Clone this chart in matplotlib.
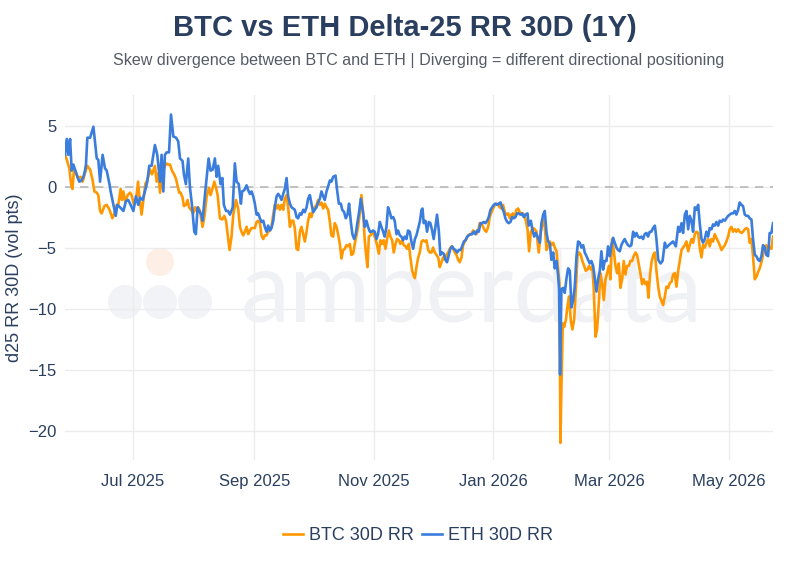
import numpy as np
import pandas as pd
import matplotlib
matplotlib.use("Agg")
import matplotlib.pyplot as plt
import matplotlib.dates as mdates
from matplotlib.patches import Ellipse

# ---------------- data (day offsets from 2025-05-27, value in vol pts) ----------------
start_date = "2025-05-27"

eth_day = [0.3,1.2,2.0,2.9,3.7,4.6,5.4,6.6,7.6,8.8,9.7,10.5,11.0,11.7,13.1,14.8,15.6,16.5,17.3,18.2,19.5,20.7,21.6,23.0,23.6,25.0,26.2,27.0,28.4,30.1,31.4,32.6,33.8,35.2,36.5,37.7,38.6,40.0,41.1,42.3,43.3,44.5,46.2,47.4,48.8,49.6,50.5,51.3,52.2,53.4,54.4,55.6,57.0,58.1,59.0,60.3,61.0,62.0,63.2,64.1,65.1,66.3,67.1,68.0,68.8,69.9,70.5,71.6,73.0,73.6,74.6,75.7,76.8,77.7,78.5,79.7,80.6,81.4,82.5,83.5,84.5,85.9,87.0,87.9,
           89.0,90.1,90.7,91.8,93.0,93.8,94.7,95.5,96.4,97.2,98.1,98.9,99.8,100.6,101.5,102.3,103.2,104.0,104.9,105.7,106.6,107.4,108.3,109.1,110.0,110.8,111.7,112.5,113.4,114.2,115.1,115.9,116.8,117.6,118.5,119.3,120.2,121.0,121.9,122.7,123.6,124.4,125.3,126.1,127.0,127.8,128.7,129.5,130.4,131.2,132.1,132.9,133.8,134.6,135.5,136.3,137.2,138.4,139.2,140.1,141.1,141.8,142.8,143.6,144.5,145.3,146.2,147.0,147.9,148.7,149.6,150.4,151.3,152.5,153.3,154.2,155.0,155.9,156.7,157.6,158.4,159.3,160.1,161.0,161.8,162.7,163.5,164.4,165.2,166.1,166.9,167.8,168.6,169.5,170.3,171.2,172.0,172.9,173.7,174.6,175.4,176.3,177.1,178.0,
           178.9,179.7,180.6,181.4,182.3,182.8,183.4,184.3,185.1,186.0,186.8,187.7,188.5,189.4,190.2,191.1,191.9,192.8,193.6,194.5,195.3,196.2,197.0,197.9,198.7,199.6,200.5,201.3,202.2,203.0,203.9,204.7,205.6,206.4,207.3,208.1,209.0,209.8,210.7,211.5,212.4,213.2,214.1,214.9,215.8,216.6,217.5,218.3,219.2,220.0,220.9,221.7,222.6,223.4,224.3,225.1,226.0,226.8,227.7,228.5,229.4,230.2,231.1,231.9,232.8,233.6,234.5,
           235.3,236.4,237.0,238.1,238.7,239.8,240.6,241.5,242.7,243.5,244.4,245.2,246.1,246.9,247.8,248.6,249.5,250.3,251.2,252.0,252.5,253.0,253.7,254.6,255.4,256.3,257.1,258.0,258.8,259.7,260.5,261.4,262.2,263.1,263.9,264.8,265.6,266.5,267.3,268.2,269.0,269.9,270.7,271.6,272.4,273.3,274.1,275.0,275.8,276.7,277.5,278.4,279.2,280.1,280.9,281.8,282.6,283.5,284.3,285.2,286.0,286.9,287.7,288.6,289.4,290.3,291.1,292.0,292.8,293.7,294.5,295.4,296.2,297.1,297.9,298.8,299.6,300.5,
           301.4,302.2,303.1,304.3,305.3,306.5,307.3,308.5,309.9,310.7,312.1,313.3,314.1,315.0,315.8,316.7,317.5,318.4,319.2,320.1,320.9,321.8,322.6,323.5,324.3,325.2,326.0,326.9,327.7,328.6,329.4,330.3,331.1,332.0,332.8,333.7,334.5,335.4,336.2,337.1,337.9,338.8,339.6,340.5,341.3,342.2,343.0,343.9,344.7,345.6,346.4,347.3,348.1,349.0,349.8,350.7,351.5,352.4,353.2,354.1,354.9,355.8,356.6,357.5,358.3,359.2,360.0,360.9,361.7]
eth_val = [2.6,3.9,2.6,3.9,1.3,1.8,1.4,0.8,0.4,0.5,0.8,1.3,1.8,4.0,4.0,4.9,3.7,2.3,2.2,0.4,2.6,1.5,1.3,0.2,-0.4,-1.5,-2.4,-1.5,-1.7,-2.0,-1.2,-1.1,-1.5,-2.0,-0.8,-1.5,-0.9,-1.1,-0.4,0.4,1.7,1.7,3.4,2.6,0.4,2.6,-0.4,2.6,2.8,2.8,5.9,4.1,4.0,3.7,2.3,2.1,1.0,0.2,2.3,-0.1,-1.5,-3.7,-3.9,-1.7,-2.0,-2.3,-2.8,-0.9,1.4,2.3,1.3,1.4,2.3,0.8,1.7,0.2,0.7,-1.5,-2.0,-2.0,-2.3,-1.7,1.9,0.4,
           0.2,-1.4,-0.4,-0.3,0.1,-0.3,-0.6,-0.4,-0.8,-1.4,-2.3,-2.2,-2.6,-2.9,-2.8,-3.3,-3.7,-3.2,-3.6,-3.4,-2.8,-1.7,-0.8,-0.6,-0.8,-1.1,-0.6,-0.2,0.7,-0.8,-1.4,-1.7,-1.8,-1.9,-2.5,-2.6,-2.2,-2.3,-1.9,-2.1,-1.7,-1.0,-0.7,-1.4,-2.1,-1.9,-1.7,-1.3,-1.0,-0.4,-0.8,-1.1,-0.4,0.0,0.5,0.4,0.8,0.9,-0.3,-1.4,-1.4,-1.9,-2.1,-2.6,-2.3,-1.4,-2.9,-3.9,-4.3,-3.9,-2.9,-2.1,-1.0,-2.2,-3.3,-2.8,-3.3,-3.7,-3.7,-3.6,-3.7,-4.3,-3.9,-2.9,-3.3,-3.7,-4.1,-3.3,-1.7,-2.1,-2.6,-2.5,-2.8,-3.9,-3.6,-4.0,-4.1,-4.4,-4.1,-4.3,-3.6,-3.7,-4.5,-5.1,
           -4.3,-4.0,-3.4,-2.9,-1.9,-1.8,-3.0,-2.8,-3.7,-2.9,-3.0,-3.6,-4.3,-3.3,-2.3,-3.6,-5.6,-5.4,-5.5,-6.0,-6.2,-5.6,-5.1,-4.9,-5.1,-5.2,-5.4,-5.2,-5.2,-4.9,-4.5,-4.4,-4.1,-4.0,-3.9,-3.9,-3.7,-3.9,-3.6,-3.7,-3.0,-3.0,-2.9,-3.0,-2.8,-2.5,-1.9,-1.7,-1.5,-1.4,-1.5,-1.4,-1.3,-1.7,-2.1,-2.6,-2.9,-3.0,-2.9,-2.5,-2.6,-2.5,-2.2,-2.2,-2.3,-2.2,-2.5,
           -2.3,-2.2,-3.2,-2.8,-3.4,-4.1,-3.8,-4.1,-4.6,-3.0,-2.3,-2.0,-3.8,-4.5,-4.7,-6.0,-5.4,-6.7,-6.1,-7.3,-8.4,-15.4,-8.4,-8.3,-8.7,-7.5,-6.7,-6.9,-9.9,-9.3,-8.2,-5.7,-4.5,-4.6,-5.0,-4.8,-5.4,-5.7,-6.0,-6.3,-6.1,-6.5,-7.5,-8.6,-7.6,-6.9,-5.3,-6.8,-6.1,-6.1,-4.9,-5.7,-4.8,-4.2,-4.6,-5.0,-5.2,-5.3,-4.8,-4.5,-4.3,-4.6,-4.8,-4.9,-4.8,-3.7,-4.1,-3.8,-4.1,-4.2,-4.1,-4.3,-3.9,-3.8,-4.1,-3.7,-3.7,-3.4,
           -3.2,-4.3,-6.0,-6.3,-6.1,-4.6,-5.0,-4.8,-4.6,-4.5,-4.9,-3.3,-3.7,-3.0,-3.8,-2.3,-2.0,-3.5,-2.4,-2.8,-3.7,-1.7,-1.9,-1.5,-3.0,-4.3,-4.6,-4.3,-3.7,-4.1,-3.4,-3.5,-3.1,-3.2,-2.9,-3.2,-2.8,-2.9,-2.7,-2.8,-2.6,-2.4,-2.3,-2.2,-2.2,-2.0,-2.3,-1.9,-1.3,-1.5,-1.6,-2.3,-2.4,-2.4,-2.6,-2.7,-4.3,-5.6,-5.7,-6.0,-6.1,-5.7,-4.8,-5.0,-5.6,-5.7,-3.8,-3.8,-3.0]

btc_day = [0.3,1.2,2.5,3.4,4.1,4.9,6.0,7.1,8.3,9.3,10.5,11.7,13.1,14.3,15.3,16.5,17.3,18.2,19.0,20.4,21.6,23.0,24.5,25.5,26.7,27.5,28.7,29.4,30.1,31.1,32.3,33.5,34.3,35.5,36.5,37.6,38.2,39.4,40.3,41.3,42.5,43.7,44.7,46.2,47.1,48.0,48.8,49.6,50.5,51.8,53.0,53.9,54.9,56.0,57.0,57.6,58.6,59.3,60.3,61.0,62.0,62.9,63.6,64.6,65.8,66.6,67.5,68.3,69.2,70.5,71.6,72.6,73.8,74.6,75.7,76.5,77.4,78.2,79.4,80.6,81.6,82.5,83.5,84.3,85.3,86.2,87.6,
           88.7,89.6,90.4,91.3,92.1,93.0,93.8,94.7,95.5,96.4,97.2,98.1,98.9,99.8,100.6,101.5,102.3,103.2,104.0,104.9,105.7,106.6,107.4,108.3,109.1,110.0,110.8,111.7,112.5,113.4,114.2,115.1,115.9,116.8,117.6,118.5,119.3,120.2,121.0,121.9,122.7,123.6,124.4,125.3,126.1,127.0,127.8,128.7,129.5,130.4,131.2,132.1,132.9,133.8,134.6,135.5,136.3,137.2,138.0,138.9,139.7,140.6,141.4,142.3,143.1,144.0,144.8,145.7,146.5,147.4,148.2,149.1,149.9,150.8,151.6,152.5,153.3,154.2,154.7,155.4,156.2,157.1,157.9,158.8,159.6,160.5,161.3,162.2,163.0,163.9,164.7,165.6,166.4,167.3,168.1,169.0,169.8,170.7,171.5,172.4,173.2,174.1,174.9,175.8,176.6,177.5,178.3,
           178.9,179.7,180.6,181.4,182.3,183.1,184.0,184.8,185.7,186.5,187.4,188.2,189.1,189.9,190.8,191.6,192.5,193.3,194.2,195.0,195.9,196.7,197.6,198.4,199.3,200.1,201.0,201.8,202.7,203.5,204.4,205.2,206.1,206.9,207.8,208.6,209.5,210.3,211.2,212.0,212.9,213.7,214.6,215.4,216.3,217.1,218.0,218.8,219.7,220.5,221.4,222.2,223.1,223.9,224.8,225.6,226.5,227.3,228.2,229.0,229.9,230.7,231.6,232.4,233.3,234.1,
           235.0,236.4,237.2,238.1,239.3,240.1,241.0,242.1,243.2,244.4,245.2,246.1,246.9,247.8,248.6,249.5,250.3,251.2,252.0,252.7,253.2,253.7,254.4,255.1,256.0,256.8,257.6,258.5,259.3,260.2,261.0,261.9,262.7,263.6,264.4,265.3,266.1,267.0,267.8,268.7,269.5,270.2,271.1,271.9,272.8,273.6,274.5,275.3,276.2,277.0,277.9,278.7,279.6,280.4,281.3,282.1,283.0,283.8,284.7,285.5,286.4,287.2,288.1,288.9,289.8,290.6,291.5,292.3,293.2,294.0,294.9,295.7,296.6,297.4,298.1,299.0,299.8,300.6,
           301.4,302.2,303.1,303.9,304.8,305.6,306.5,307.3,308.2,309.0,309.9,310.7,311.6,312.4,313.3,314.1,315.0,315.8,316.7,317.5,318.4,319.2,320.1,320.9,321.8,322.6,323.5,324.3,325.2,326.0,326.9,327.7,328.6,329.4,330.3,331.1,332.0,332.8,333.7,334.5,335.4,336.2,337.1,337.9,338.8,339.6,340.5,341.3,342.2,343.0,343.9,344.7,345.6,346.4,347.3,348.1,349.0,349.8,350.7,351.5,352.4,353.2,354.1,354.9,355.8,356.6,357.5,358.3,359.2,360.0,360.9,361.7]
btc_val = [2.6,2.2,1.5,0.2,-0.2,1.4,1.1,0.7,0.8,0.4,1.1,1.7,1.4,0.6,-0.4,-0.5,-0.7,-2.0,-2.2,-1.6,-1.5,-1.9,-2.6,-2.2,-1.5,-1.5,-0.2,-1.1,-0.4,-1.3,-0.7,-0.5,-0.7,-1.5,-1.2,0.4,-0.7,-2.3,-1.1,0.2,0.6,1.4,1.0,1.7,0.4,1.1,-0.5,0.6,1.3,1.9,1.8,1.8,1.3,1.0,0.6,0.2,-0.5,-0.5,-0.9,-1.6,-1.5,-1.1,-1.7,-1.9,-2.2,-1.7,-2.0,-1.7,-2.0,-3.3,-2.3,-0.8,-0.1,-0.7,-0.1,0.4,-0.1,-0.7,-2.6,-2.7,-2.4,-2.8,-4.1,-5.2,-4.1,-2.3,-1.1,
           -1.8,-3.3,-3.7,-4.0,-3.7,-3.3,-3.9,-3.6,-3.4,-3.4,-3.4,-2.9,-2.8,-3.0,-4.0,-4.3,-4.0,-4.0,-3.7,-3.6,-3.3,-2.3,-1.5,-1.8,-1.5,-1.9,-1.5,-1.9,-1.0,-0.7,-1.7,-3.3,-2.8,-2.8,-3.4,-5.1,-5.2,-3.7,-3.3,-3.9,-4.5,-3.7,-2.8,-2.2,-2.5,-1.9,-1.7,-1.5,-1.1,-1.5,-1.3,-1.8,-1.4,-1.7,-1.9,-2.9,-4.0,-4.1,-3.0,-3.3,-3.9,-4.7,-5.9,-5.2,-5.1,-4.8,-4.9,-4.7,-5.6,-5.5,-4.7,-4.0,-3.3,-2.2,-0.7,-2.2,-4.4,-5.9,-6.6,-4.1,-4.0,-3.7,-3.9,-4.3,-4.8,-5.5,-4.4,-4.7,-4.4,-5.1,-4.3,-3.6,-4.1,-4.4,-5.4,-4.7,-4.3,-4.4,-4.7,-4.4,-4.8,-4.9,-5.1,-4.7,-5.8,-6.9,-7.3,
           -7.5,-6.6,-5.8,-5.4,-4.5,-4.4,-4.5,-4.4,-5.2,-5.4,-5.4,-5.0,-5.4,-5.6,-5.8,-6.6,-6.2,-5.8,-6.0,-5.6,-5.4,-5.1,-4.9,-5.1,-5.4,-5.6,-6.0,-6.2,-5.8,-4.8,-4.5,-4.3,-4.0,-3.9,-3.9,-3.6,-3.7,-3.9,-3.6,-3.0,-3.0,-3.3,-3.6,-3.7,-3.3,-2.5,-2.1,-1.8,-1.5,-1.4,-1.5,-1.7,-1.8,-1.5,-2.1,-2.3,-2.2,-2.6,-2.3,-2.2,-2.5,-1.9,-1.8,-2.1,-2.2,-2.2,
           -2.4,-3.5,-5.3,-3.7,-3.4,-3.5,-3.7,-5.4,-3.7,-2.7,-3.3,-5.2,-4.9,-4.5,-4.8,-4.6,-5.0,-5.3,-6.8,-7.9,-21.0,-16.4,-11.2,-11.5,-10.9,-9.8,-9.0,-11.0,-11.7,-10.9,-8.6,-5.7,-5.4,-5.6,-6.1,-6.5,-6.9,-6.8,-6.5,-6.8,-6.5,-8.4,-12.3,-11.7,-9.5,-7.1,-7.9,-9.3,-7.6,-7.1,-6.5,-7.6,-4.3,-5.2,-6.5,-7.1,-6.3,-8.3,-7.6,-6.1,-7.2,-6.5,-6.5,-6.1,-6.1,-5.7,-5.4,-5.6,-6.4,-7.1,-8.0,-7.6,-8.0,-7.8,-9.1,-7.1,-6.1,-5.6,
           -5.4,-6.9,-8.2,-9.0,-9.4,-9.7,-9.0,-8.2,-8.3,-7.9,-7.8,-7.2,-7.1,-8.2,-6.9,-6.1,-5.2,-5.0,-4.8,-4.5,-5.3,-4.8,-4.3,-4.6,-3.9,-3.7,-3.8,-5.0,-5.8,-4.8,-5.0,-4.6,-4.3,-4.9,-4.3,-4.5,-3.9,-4.2,-4.5,-4.8,-5.2,-5.0,-4.8,-4.5,-4.1,-3.5,-3.3,-3.7,-3.5,-3.7,-3.5,-3.7,-3.8,-3.7,-3.5,-3.4,-3.5,-4.6,-4.3,-5.7,-7.6,-7.4,-7.0,-6.7,-6.2,-5.6,-5.0,-4.8,-5.3,-5.0,-5.1,-4.1]

yticks = [5, 0, -5, -10, -15, -20]
xtick_dates = ["2025-07-01", "2025-09-01", "2025-11-01", "2026-01-01", "2026-03-01", "2026-05-01"]

title = "BTC vs ETH Delta-25 RR 30D (1Y)"
subtitle = "Skew divergence between BTC and ETH | Diverging = different directional positioning"
ylabel = "d25 RR 30D (vol pts)"
btc_name = "BTC 30D RR"
eth_name = "ETH 30D RR"

# ---------------- styling ----------------
BTC_COLOR = "#FF9800"
ETH_COLOR = "#3B7DDD"
TEXT_COLOR = "#2a3f5f"
GRID_COLOR = "#ececec"
FONT = ["Liberation Sans", "DejaVu Sans"]

plt.rcParams["font.family"] = FONT

W, H = 810, 567
fig = plt.figure(figsize=(W / 100, H / 100), dpi=100)
fig.patch.set_facecolor("white")

L, R, T, B = 65, 773, 95, 460
ax = fig.add_axes([L / W, 1 - B / H, (R - L) / W, (B - T) / H])
ax.set_facecolor("none")

t0 = pd.Timestamp(start_date)
btc_x = t0 + pd.to_timedelta(np.array(btc_day), unit="D")
eth_x = t0 + pd.to_timedelta(np.array(eth_day), unit="D")

# watermark (amberdata logo + word)
def fig_circle(cx, cy, r, color):
    e = Ellipse((cx / W, 1 - cy / H), 2 * r / W, 2 * r / H, transform=fig.transFigure,
                facecolor=color, edgecolor="none", zorder=0.5)
    ax.add_artist(e)
    e.set_clip_on(False)

fig_circle(160, 262, 14, "#fdefe6")
for cx in (125, 160, 195):
    fig_circle(cx, 302, 17, "#f1f3f7")
ax.text(472 / W, 1 - 293 / H, "amberdata", transform=fig.transFigure, fontsize=71,
        family=["Lato", "DejaVu Sans"], color="#f0f1f5", ha="center", va="center",
        zorder=0.6)

ax.axhline(0, color="#b8b8b8", lw=1.2, ls=(0, (5, 4)), zorder=1)
ax.plot(btc_x, btc_val, color=BTC_COLOR, lw=1.9, zorder=3, label=btc_name)
ax.plot(eth_x, eth_val, color=ETH_COLOR, lw=1.9, zorder=4, label=eth_name)

ax.set_xlim(btc_x.min(), btc_x.max())
ax.set_ylim(-22.4, 7.5)
ax.set_yticks(yticks)
ax.set_xticks(pd.to_datetime(xtick_dates))
ax.xaxis.set_major_formatter(mdates.DateFormatter("%b %Y"))
ax.grid(True, color=GRID_COLOR, lw=1, zorder=0)
ax.set_axisbelow(True)
for s in ax.spines.values():
    s.set_visible(False)
ax.tick_params(axis="both", length=0, labelsize=12, colors=TEXT_COLOR, pad=6)
ax.tick_params(axis="x", pad=10)
ax.set_ylabel(ylabel, fontsize=13, color=TEXT_COLOR)
ax.yaxis.set_label_coords(23 / W, 1 - 278 / H, transform=fig.transFigure)

fig.text(0.5, 1 - 28 / H, title, ha="center", va="center", fontsize=21,
         fontweight="bold", color=TEXT_COLOR)
fig.text(419 / W, 1 - 61 / H, subtitle, ha="center", va="center", fontsize=11.6,
         color="#555b66")

leg = ax.legend(loc="center", bbox_to_anchor=(418 / W, 1 - 536 / H),
                bbox_transform=fig.transFigure, ncol=2, frameon=False,
                fontsize=13, handlelength=1.1, handletextpad=0.3,
                columnspacing=0.5, labelcolor=TEXT_COLOR)

fig.savefig("out.png", dpi=100, facecolor="white")
